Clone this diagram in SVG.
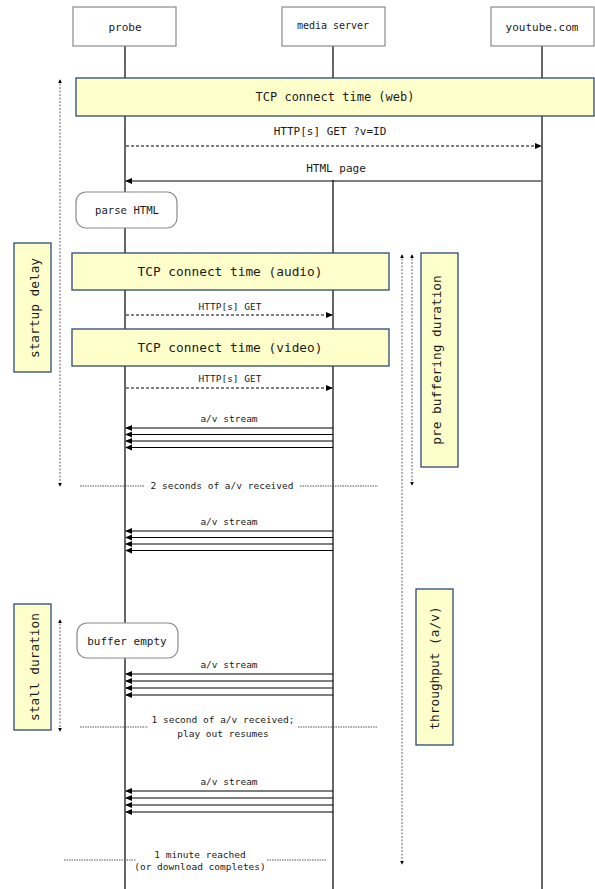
<svg xmlns="http://www.w3.org/2000/svg" width="595" height="889" viewBox="0 0 595 889">
  <defs>
    <marker id="ah" viewBox="0 0 8 8" refX="7" refY="4" markerWidth="7" markerHeight="7" markerUnits="userSpaceOnUse" orient="auto">
      <path d="M0,0.5 L8,4 L0,7.5 Z" fill="#000"/>
    </marker>
    <marker id="sh" viewBox="0 0 6 6" refX="5" refY="3" markerWidth="4" markerHeight="4" markerUnits="userSpaceOnUse" orient="auto-start-reverse">
      <path d="M0,0 L6,3 L0,6 Z" fill="#000"/>
    </marker>
  </defs>
  <style>
    text { font-family: "DejaVu Sans Mono", "Liberation Mono", monospace; fill: #1a1a1a; }
    .hdr { fill: #fff; stroke: #8a8a8a; stroke-width: 1.2; }
    .life { stroke: #000; stroke-width: 1.2; }
    .note { fill: #ffffcc; stroke: #2b4a73; stroke-width: 1.3; }
    .state { fill: #fff; stroke: #8a8a8a; stroke-width: 1.2; }
    .msg { stroke: #000; stroke-width: 1.2; fill: none; marker-end: url(#ah); }
    .dash { stroke-dasharray: 3 2; }
    .span { stroke: #555; stroke-width: 0.9; stroke-dasharray: 2 1.5; fill: none; marker-start: url(#sh); marker-end: url(#sh); }
    .sep { stroke: #444; stroke-width: 0.9; stroke-dasharray: 1.5 1; fill: none; }
    .t11 { font-size: 11px; }
    .t10 { font-size: 10px; }
    .t9 { font-size: 9.5px; }
    .t12 { font-size: 12px; }
    .t13 { font-size: 12.8px; }
  </style>

  <!-- lifelines (media server joins after the page arrives) -->
  <g id="lifelines">
    <line class="life" x1="125" y1="46" x2="125" y2="889"/>
    <line class="life" x1="333" y1="46" x2="333" y2="78"/>
    <line class="life" x1="333" y1="180" x2="333" y2="889"/>
    <line class="life" x1="542" y1="46" x2="542" y2="889"/>
  </g>

  <!-- participants -->
  <g id="probe">
    <rect class="hdr" x="73" y="7" width="103" height="39"/>
    <text class="t11" x="125" y="31" text-anchor="middle">probe</text>
  </g>
  <g id="media-server">
    <rect class="hdr" x="282" y="7" width="103" height="39"/>
    <text class="t10" x="333" y="29" text-anchor="middle">media server</text>
  </g>
  <g id="youtube">
    <rect class="hdr" x="491" y="7" width="103" height="39"/>
    <text class="t11" x="542" y="31" text-anchor="middle">youtube.com</text>
  </g>

  <!-- notes spanning lifelines -->
  <g id="tcp-web">
    <rect class="note" x="76" y="78" width="518" height="38"/>
    <text class="t12" x="335" y="101" text-anchor="middle">TCP connect time (web)</text>
  </g>
  <g id="parse-html">
    <rect class="state" x="76" y="192" width="101" height="36" rx="10"/>
    <text x="127" y="214" text-anchor="middle" font-size="10.6">parse HTML</text>
  </g>
  <g id="tcp-audio">
    <rect class="note" x="72" y="253" width="317" height="37"/>
    <text class="t13" x="230" y="276" text-anchor="middle">TCP connect time (audio)</text>
  </g>
  <g id="tcp-video">
    <rect class="note" x="72" y="329" width="317" height="37"/>
    <text class="t13" x="230" y="352" text-anchor="middle">TCP connect time (video)</text>
  </g>
  <g id="buffer-empty">
    <rect class="state" x="77" y="623" width="101" height="35" rx="10"/>
    <text class="t11" x="127" y="645" text-anchor="middle">buffer empty</text>
  </g>

  <!-- side annotations -->
  <g id="startup-delay">
    <rect class="note" x="14" y="243" width="37" height="129"/>
    <text class="t13" transform="translate(38.5,308) rotate(-90)" text-anchor="middle">startup delay</text>
  </g>
  <g id="pre-buffering">
    <rect class="note" x="421" y="253" width="37" height="214"/>
    <text class="t13" transform="translate(441,360) rotate(-90)" text-anchor="middle">pre buffering duration</text>
  </g>
  <g id="throughput">
    <rect class="note" x="416" y="589" width="37" height="156"/>
    <text class="t13" transform="translate(439,668) rotate(-90)" text-anchor="middle">throughput (a/v)</text>
  </g>
  <g id="stall-duration">
    <rect class="note" x="14" y="604" width="37" height="126"/>
    <text class="t13" transform="translate(38.5,667) rotate(-90)" text-anchor="middle">stall duration</text>
  </g>

  <!-- connectors -->
  <g id="connectors">
    <!-- page request -->
    <line class="msg dash" x1="126" y1="146" x2="541" y2="146"/>
    <text class="t11" x="330" y="135" text-anchor="middle">HTTP[s] GET ?v=ID</text>
    <line class="msg" x1="541" y1="181" x2="126" y2="181"/>
    <text class="t11" x="336" y="172" text-anchor="middle">HTML page</text>

    <!-- media requests -->
    <line class="msg dash" x1="126" y1="315" x2="332" y2="315"/>
    <text class="t9" x="230" y="310" text-anchor="middle">HTTP[s] GET</text>
    <line class="msg dash" x1="126" y1="388" x2="332" y2="388"/>
    <text class="t9" x="230" y="382" text-anchor="middle">HTTP[s] GET</text>

    <!-- a/v stream bursts -->
    <text class="t9" x="229" y="422" text-anchor="middle">a/v stream</text>
    <line class="msg" x1="333" y1="428" x2="126" y2="428"/>
    <line class="msg" x1="333" y1="434.5" x2="126" y2="434.5"/>
    <line class="msg" x1="333" y1="441" x2="126" y2="441"/>
    <line class="msg" x1="333" y1="447.5" x2="126" y2="447.5"/>

    <text class="t9" x="229" y="525" text-anchor="middle">a/v stream</text>
    <line class="msg" x1="333" y1="531" x2="126" y2="531"/>
    <line class="msg" x1="333" y1="537.5" x2="126" y2="537.5"/>
    <line class="msg" x1="333" y1="544" x2="126" y2="544"/>
    <line class="msg" x1="333" y1="550.5" x2="126" y2="550.5"/>

    <text class="t9" x="229" y="668" text-anchor="middle">a/v stream</text>
    <line class="msg" x1="333" y1="674" x2="126" y2="674"/>
    <line class="msg" x1="333" y1="681" x2="126" y2="681"/>
    <line class="msg" x1="333" y1="688" x2="126" y2="688"/>
    <line class="msg" x1="333" y1="695" x2="126" y2="695"/>

    <text class="t9" x="229" y="785" text-anchor="middle">a/v stream</text>
    <line class="msg" x1="333" y1="791" x2="126" y2="791"/>
    <line class="msg" x1="333" y1="798" x2="126" y2="798"/>
    <line class="msg" x1="333" y1="805" x2="126" y2="805"/>
    <line class="msg" x1="333" y1="812" x2="126" y2="812"/>

    <!-- duration spans -->
    <line class="span" x1="60" y1="80" x2="60" y2="486"/>
    <line class="span" x1="412" y1="255" x2="412" y2="485"/>
    <line class="span" x1="402" y1="255" x2="402" y2="864"/>
    <line class="span" x1="60" y1="620" x2="60" y2="731"/>

    <!-- milestone separators -->
    <line class="sep" x1="80" y1="486" x2="144" y2="486"/>
    <text class="t9" x="222" y="489" text-anchor="middle">2 seconds of a/v received</text>
    <line class="sep" x1="300" y1="486" x2="378" y2="486"/>

    <line class="sep" x1="80" y1="727" x2="148" y2="727"/>
    <text class="t9" x="223" y="723" text-anchor="middle">1 second of a/v received;</text>
    <text class="t9" x="223" y="737" text-anchor="middle">play out resumes</text>
    <line class="sep" x1="298" y1="727" x2="378" y2="727"/>

    <line class="sep" x1="64" y1="860" x2="136" y2="860"/>
    <text class="t9" x="200" y="858" text-anchor="middle">1 minute reached</text>
    <text class="t9" x="200" y="870" text-anchor="middle">(or download completes)</text>
    <line class="sep" x1="267" y1="860" x2="326" y2="860"/>
  </g>
</svg>
